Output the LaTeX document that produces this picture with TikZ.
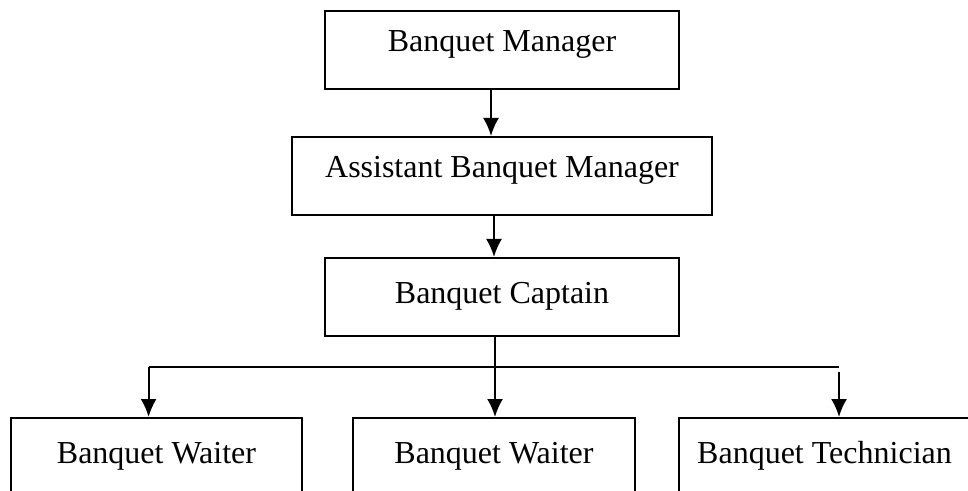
\documentclass[tikz,border=0pt]{standalone}
\usepackage{fontspec}
\setmainfont{Liberation Serif}
\usetikzlibrary{arrows.meta}
\tikzset{
  post/.style={draw, line width=1.1pt, inner sep=0pt, anchor=north,
    text height=20pt, text depth=19pt, font=\fontsize{16}{19}\selectfont},
  lowpost/.style={post, text height=22.5pt, text depth=16.5pt},
  link/.style={line width=1.1pt, -{Latex[length=9pt,width=8pt]}}
}
\begin{document}
\begin{tikzpicture}[x=0.5pt,y=-0.5pt]
\clip (0,0) rectangle (968,491); % page size
\node[post, minimum width=177pt] (bm) at (502,10) {Banquet Manager};
\node[post, minimum width=210pt] (abm) at (502,136) {Assistant Banquet Manager};
\node[lowpost, minimum width=177pt] (cap) at (502,257) {Banquet Captain};
\foreach \n/\x/\w/\t in {w1/156.5/145.5/Banquet Waiter, w2/494/141/Banquet Waiter, tech/824.5/145.5/Banquet Technician} % edit here for the bottom row
\node[lowpost, minimum width=\w pt] (\n) at (\x,417) {\t};
\coordinate (c1) at (491,0);
\coordinate (c2) at (494,0);
\coordinate (c3) at (495,0);
\coordinate (left) at (148.6,367);
\coordinate (right) at (839,367);
\draw[link] (c1 |- bm.south) -- (c1 |- abm.north);
\draw[link] (c2 |- abm.south) -- (c2 |- cap.north);
\draw[link] (c3 |- cap.south) -- (c3 |- w2.north);
\draw[line width=1.1pt] (left) -- (right); % edit here for the bar
\draw[link] (left) -- (left |- w1.north);
\draw[link] ([yshift=-2.5pt]right) -- (right |- tech.north);
\end{tikzpicture}
\end{document}
